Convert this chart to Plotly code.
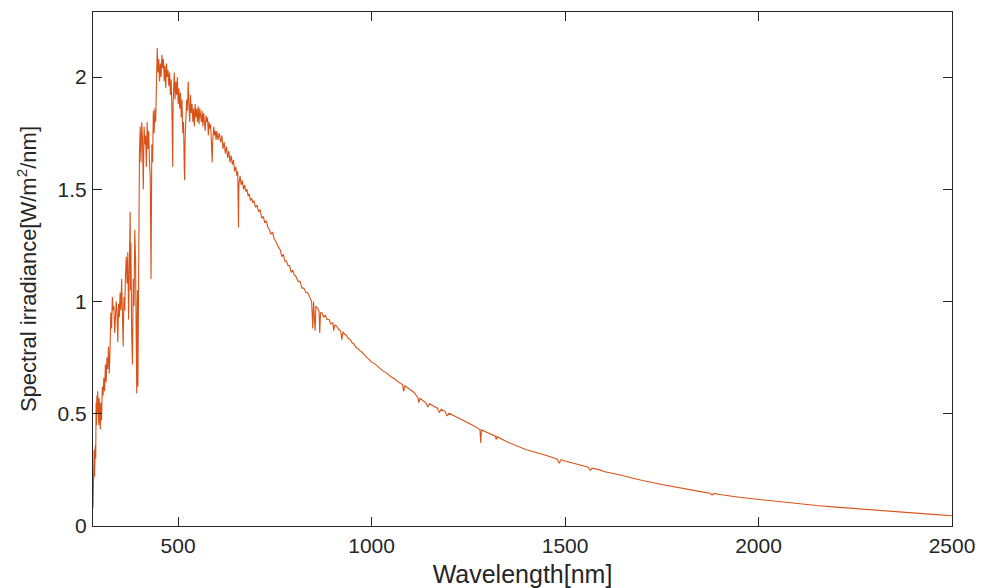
import plotly.graph_objects as go

# Wavelength [nm] and spectral irradiance [W/m^2/nm]
uv_wl = [280, 281, 282, 283, 284, 286, 287, 288, 289, 290, 291, 292, 293, 294, 295, 296, 297, 298, 299, 300,
         302, 304, 306, 308, 310, 312, 314, 316, 318, 320, 322, 324, 326, 328, 330, 332, 334, 336, 338, 340,
         342, 344, 346, 348, 350, 352, 354, 356, 358, 360, 362, 364, 366, 368, 370, 372, 374, 376, 377, 378,
         380, 382, 384, 386, 388, 390, 392, 393, 394, 395, 396, 397, 398, 399]
uv_val = [0.08, 0.30, 0.14, 0.34, 0.22, 0.36, 0.30, 0.55, 0.45, 0.58, 0.50, 0.60, 0.48, 0.56, 0.45, 0.57, 0.44, 0.52, 0.43, 0.55,
          0.47, 0.62, 0.58, 0.66, 0.60, 0.72, 0.64, 0.75, 0.70, 0.80, 0.68, 0.78, 0.95, 0.88, 1.02, 0.96, 0.98, 0.86, 0.97, 1.00,
          0.95, 0.82, 0.99, 0.93, 1.04, 0.96, 1.10, 0.98, 0.80, 1.02, 0.96, 1.12, 1.20, 1.08, 1.22, 0.92, 1.15, 1.40, 1.05, 1.26,
          0.85, 0.72, 1.10, 0.98, 1.32, 1.18, 0.78, 0.59, 0.92, 1.05, 0.62, 0.95, 1.30, 1.45]

vis_wl = [400, 402, 404, 406, 408, 410, 412, 414, 416, 418, 420, 422, 424, 426, 428, 430, 431, 432, 434, 436,
          438, 440, 442, 444, 446, 448, 450, 452, 454, 456, 458, 460, 462, 464, 466, 468, 470, 472, 474, 476,
          478, 480, 482, 484, 486, 487, 488, 490, 492, 494, 496, 498, 500, 502, 504, 506, 508, 510, 512, 514,
          516, 517, 518, 520, 522, 524, 526, 528, 530, 532, 534, 536, 538, 540, 542, 544, 546, 548, 550, 552,
          554, 556, 558, 560, 562, 564, 566, 568, 570, 572, 574, 576, 578, 580, 582, 584, 586, 588, 589, 590,
          592, 594, 596, 598]
vis_val = [1.65, 1.78, 1.62, 1.80, 1.72, 1.50, 1.78, 1.70, 1.74, 1.60, 1.80, 1.68, 1.76, 1.62, 1.55, 1.10, 1.45, 1.70, 1.62, 1.85,
           1.75, 1.86, 1.80, 1.95, 2.13, 2.02, 2.08, 1.98, 2.06, 2.00, 2.10, 2.04, 2.08, 1.98, 2.05, 1.95, 2.06, 2.00, 2.03, 1.96,
           2.02, 1.92, 1.99, 1.85, 1.60, 1.88, 1.95, 2.02, 1.90, 1.98, 1.92, 2.00, 1.88, 1.95, 1.86, 1.93, 1.82, 1.90, 1.75, 1.80,
           1.58, 1.54, 1.72, 1.82, 1.90, 1.85, 1.98, 1.88, 1.80, 1.92, 1.84, 1.88, 1.80, 1.86, 1.78, 1.88, 1.82, 1.86, 1.80, 1.87,
           1.79, 1.86, 1.83, 1.80, 1.85, 1.78, 1.84, 1.81, 1.76, 1.83, 1.80, 1.82, 1.74, 1.80, 1.77, 1.79, 1.72, 1.62, 1.70, 1.76,
           1.78, 1.74, 1.76, 1.72]

red_wl = [600, 603, 606, 610, 613, 616, 619, 622, 625, 628, 631, 634, 637, 640, 643, 646, 649, 652, 654, 656,
          657, 660, 663, 666, 669, 672, 675, 678, 681, 684, 687, 690, 693, 696, 700, 704, 708, 712, 716, 720,
          724, 728, 732, 736, 740, 744, 748, 752, 756, 760, 764, 768, 772, 776, 780, 784, 788, 792, 796, 800,
          805, 810, 815, 820, 825, 830, 835, 840, 845, 848, 850, 854, 856, 860, 864, 866, 868, 872, 876, 880,
          885, 890, 895, 900, 902, 905, 910, 915, 920, 923, 926, 930, 935, 940, 945, 950, 955, 960, 965, 970,
          975, 980, 985, 990, 995]
red_val = [1.76, 1.72, 1.75, 1.71, 1.74, 1.68, 1.71, 1.66, 1.69, 1.64, 1.67, 1.62, 1.65, 1.61, 1.63, 1.58, 1.60, 1.56, 1.58, 1.33,
           1.52, 1.56, 1.52, 1.54, 1.50, 1.52, 1.49, 1.50, 1.47, 1.48, 1.45, 1.46, 1.44, 1.45, 1.42, 1.43, 1.40, 1.41, 1.37, 1.38,
           1.35, 1.36, 1.33, 1.32, 1.30, 1.31, 1.28, 1.27, 1.25, 1.24, 1.23, 1.20, 1.21, 1.18, 1.18, 1.16, 1.16, 1.13, 1.14, 1.12,
           1.11, 1.09, 1.09, 1.06, 1.06, 1.04, 1.04, 1.02, 1.00, 0.88, 1.00, 0.87, 0.98, 0.97, 0.96, 0.86, 0.95, 0.95, 0.93, 0.94,
           0.92, 0.92, 0.90, 0.905, 0.87, 0.895, 0.89, 0.875, 0.87, 0.83, 0.865, 0.855, 0.85, 0.835, 0.83, 0.815, 0.81, 0.795, 0.79, 0.78,
           0.775, 0.765, 0.755, 0.745, 0.74]

nir_wl = [1000, 1010, 1020, 1030, 1040, 1050, 1060, 1070, 1080, 1083, 1086, 1100, 1110, 1120, 1122, 1125, 1140, 1145, 1150, 1160,
          1170, 1175, 1180, 1190, 1195, 1200, 1220, 1240, 1260, 1280, 1282, 1284, 1300, 1320, 1322, 1324, 1350, 1380, 1400, 1450,
          1480, 1485, 1490, 1500, 1520, 1540, 1560, 1565, 1570, 1590, 1600, 1640, 1680, 1700, 1750, 1800, 1850, 1875, 1880, 1885,
          1900, 1950, 2000, 2050, 2100, 2150, 2200, 2250, 2300, 2350, 2400, 2450, 2500]
nir_val = [0.73, 0.72, 0.705, 0.69, 0.68, 0.665, 0.655, 0.64, 0.63, 0.60, 0.625, 0.605, 0.595, 0.57, 0.55, 0.568, 0.55, 0.53, 0.545, 0.535,
           0.525, 0.505, 0.52, 0.51, 0.49, 0.502, 0.485, 0.47, 0.45, 0.43, 0.37, 0.428, 0.415, 0.40, 0.385, 0.398, 0.375, 0.352, 0.34, 0.315,
           0.298, 0.28, 0.296, 0.29, 0.28, 0.272, 0.262, 0.248, 0.258, 0.25, 0.243, 0.228, 0.21, 0.203, 0.185, 0.168, 0.153, 0.146, 0.138, 0.145,
           0.14, 0.128, 0.118, 0.108, 0.099, 0.091, 0.084, 0.077, 0.071, 0.064, 0.058, 0.052, 0.046]

wavelength = uv_wl + vis_wl + red_wl + nir_wl
irradiance = uv_val + vis_val + red_val + nir_val

x_ticks = [500, 1000, 1500, 2000, 2500]
y_ticks = [0, 0.5, 1, 1.5, 2]
y_tick_text = ["0", "0.5", "1", "1.5", "2"]

axis_color = "#262626"
font_family = "Liberation Sans, Arial, sans-serif"

fig = go.Figure()
fig.add_trace(go.Scatter(
    x=wavelength, y=irradiance, mode="lines",
    line=dict(color="#D95319", width=1.1),
    showlegend=False,
))

# The page body has an 8px margin, so the figure is sized/offset to compensate
fig.update_layout(
    width=975, height=580,
    margin=dict(l=85, r=31, t=4, b=62),
    paper_bgcolor="white", plot_bgcolor="white",
    font=dict(family=font_family, color=axis_color),
)
fig.update_xaxes(
    range=[280, 2500], tickvals=x_ticks, automargin=False,
    showgrid=False, zeroline=False,
    showline=True, linecolor=axis_color, linewidth=1, mirror="ticks",
    ticks="inside", ticklen=9, tickcolor=axis_color, tickwidth=1,
    tickfont=dict(size=21, color=axis_color), ticklabelstandoff=1,
    title=dict(text="Wavelength[nm]", font=dict(size=25, color=axis_color), standoff=15),
)
fig.update_yaxes(
    range=[0, 2.29], tickvals=y_ticks, ticktext=y_tick_text, automargin=False,
    showgrid=False, zeroline=False,
    showline=True, linecolor=axis_color, linewidth=1, mirror="ticks",
    ticks="inside", ticklen=9, tickcolor=axis_color, tickwidth=1,
    tickfont=dict(size=21, color=axis_color), ticklabelstandoff=1,
    title=dict(text="Spectral irradiance[W/m<sup>2</sup>/nm]", font=dict(size=22, color=axis_color), standoff=14),
)

fig.write_html("out.html")
